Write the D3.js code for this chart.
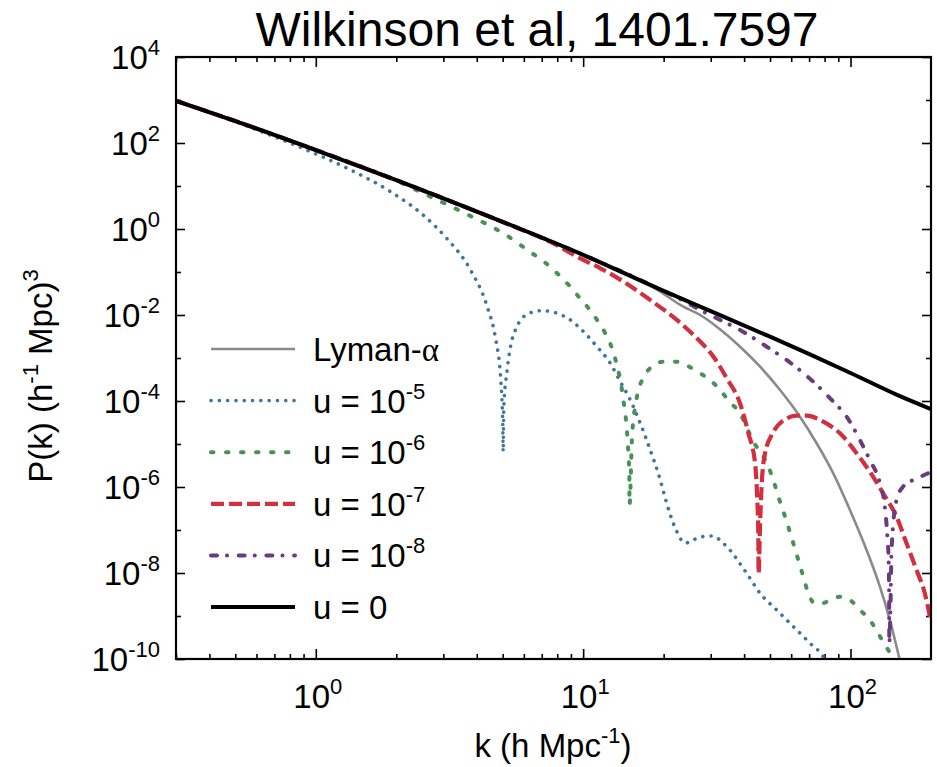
<!DOCTYPE html>
<html><head><meta charset="utf-8">
<script src="https://cdn.jsdelivr.net/npm/d3@7"></script>
<style>
body{margin:0;background:#fff}
text{font-family:"Liberation Sans",Arial,Helvetica,sans-serif;fill:#000}
</style>
</head><body>
<svg id="chart" width="937" height="767"></svg>
<script>
// ---------- data ----------
const title = "Wilkinson et al, 1401.7597";
const xDomain = [0.3, 200];
const yDomain = [1e-10, 1e4];
const xTickExps = [0, 1, 2];
const yTickExps = [4, 2, 0, -2, -4, -6, -8, -10];

const kU0 = [0.3,0.5,1,2,3,5,10,20,30,50,100,150,200];
const pU0 = [955,324,68.7,13.7,5.16,1.47,0.251,0.0363,0.0123,3.13e-3,4.48e-4,1.37e-4,6.5e-5];

const kU5 = [0.3,0.5,0.66,0.958,1.351,1.905,2.537,3.103,3.792,4.376,4.70,4.909,5.006,5.02,5.048,5.197,5.347,5.58,5.912,6.353,7.023,7.99,8.96,10.04,11.27,12.64,13.77,15.01,16.35,17.82,19.42,20.28,22.1,24.1,27.4,30.4,33.96,40.9,45.9,52.97,61.2,70.6,79.1,83.8];
const pU5 = [955,316,162,62.8,23.6,7.36,2.04,0.585,0.111,0.0156,2.87e-3,3.67e-4,2.52e-5,6.62e-6,7.36e-5,5.26e-4,1.83e-3,4.48e-3,8.38e-3,0.0113,0.0126,0.0110,7.66e-3,4.09e-3,1.83e-3,7.53e-4,2.81e-4,1.05e-4,3.03e-5,7.24e-6,1.46e-6,5.46e-7,1.11e-7,4.99e-8,6.87e-8,7.24e-8,4.48e-8,9.84e-9,3.37e-9,1.38e-9,5.64e-10,2.32e-10,1.13e-10,5.5e-11];

const kU6 = [0.3,0.5,1,1.852,2.765,3.792,5,6.446,7.224,7.99,8.83,9.62,10.48,11.27,12.1,12.82,13.27,13.69,13.97,14.25,14.5,14.66,14.79,14.88,14.91,15.22,15.36,15.66,15.98,16.74,18.08,19.98,22.42,25.14,27.4,29.85,32.54,35.45,38.64,40.9,43.3,46.6,49.3,51.4,53.7,56.1,58.5,61.1,63.8,66.6,69.5,73.6,78.0,86.2,91.3,99.5,108.4,118.1,126.9,134.4,142.4,146.6];
const pU6 = [955,324,68.7,16.4,5.18,2.00,0.81,0.272,0.164,0.0933,0.0499,0.0267,0.0143,7.66e-3,3.75e-3,1.68e-3,8.20e-4,3.67e-4,1.80e-4,7.36e-5,3.03e-5,1.24e-5,5.07e-6,2.08e-6,3.81e-7,1.24e-5,3.03e-5,7.36e-5,1.51e-4,3.37e-4,6.28e-4,8.20e-4,8.20e-4,6.08e-4,4.41e-4,3.08e-4,1.80e-4,9.23e-5,5.18e-5,2.42e-5,1.13e-5,5.85e-6,2.96e-6,1.46e-6,5.94e-7,2.67e-7,1.19e-7,4.91e-8,2.00e-8,8.20e-9,3.37e-9,1.97e-9,1.97e-9,2.58e-9,2.81e-9,2.36e-9,1.38e-9,8.07e-10,3.96e-10,2.12e-10,1.13e-10,6.2e-11];

const kU7 = [0.3,0.5,1,2,3,5,8.22,9.49,11.6,14.17,17.82,22.41,26.63,30.72,34.45,38.6,41.5,43.95,44.8,45.2,45.3,45.9,46.56,47.9,50.75,55.3,62.9,68.6,79.1,91.3,105.4,118.1,132.4,148.6,162,176.6,189.6,200];
const pU7 = [955,324,68.7,13.7,5.16,1.45,0.380,0.227,0.122,0.0594,0.0223,7.66e-3,2.87e-3,1.07e-3,3.37e-4,8.85e-5,1.77e-5,3.56e-6,4.99e-7,8.38e-8,9.84e-9,1.43e-7,1.22e-6,6.08e-6,1.62e-5,3.30e-5,4.55e-5,4.55e-5,3.30e-5,1.77e-5,6.08e-6,2.27e-6,7.13e-7,2.04e-7,4.91e-8,1.17e-8,3.37e-9,7.24e-10];

const kU8 = [0.3,0.5,1,2,3,5,10,20,23.7,27.4,31.6,38.64,48.6,61.1,72.6,86.2,96.7,108.4,118.1,128.8,134.4,137.1,139.1,139.5,139.7,141.0,142.4,148.6,157.3,171.5,192.4,200];
const pU8 = [955,324,68.7,13.7,5.16,1.47,0.251,0.0363,0.0215,0.0131,8.38e-3,4.48e-3,1.83e-3,6.87e-4,2.81e-4,9.64e-5,4.32e-5,1.24e-5,4.25e-6,1.22e-6,3.48e-7,8.38e-8,1.40e-8,1.38e-9,2.36e-10,1.38e-9,3.43e-8,4.99e-7,1.02e-6,1.46e-6,2.00e-6,2.24e-6];

const kLy = [0.3,0.5,1,2,3,5,10,18.88,23.7,27.4,31.6,38.64,45.9,54.5,64.7,74.7,86.2,99.5,114.8,128.8,140.3,150.7,154.3];
const pLy = [955,324,68.7,13.7,5.16,1.47,0.251,0.0390,0.0156,0.0100,5.35e-3,1.83e-3,6.28e-4,1.80e-4,4.32e-5,1.04e-5,2.08e-6,2.92e-7,3.43e-8,4.80e-9,8.07e-10,1.36e-10,7.24e-11];

const seriesLabels = ["Lyman-α","u = 10^-5","u = 10^-6","u = 10^-7","u = 10^-8","u = 0"];

// ---------- styles ----------
const styles = [
  {k:kLy, p:pLy, color:"#8a8a8a", width:2.6, dash:null, cap:"butt"},
  {k:kU5, p:pU5, color:"#41769a", width:3.6, dash:"0.1 8.2", cap:"round"},
  {k:kU6, p:pU6, color:"#4a9058", width:4, dash:"2.5 12.5", cap:"round"},
  {k:kU7, p:pU7, color:"#d2303f", width:4.2, dash:"13 5", cap:"butt"},
  {k:kU8, p:pU8, color:"#6c3b7e", width:4, dash:"6 10 0.1 11.6", cap:"round"},
  {k:kU0, p:pU0, color:"#000000", width:4, dash:null, cap:"butt"}
];

const svg = d3.select("#chart");
const M = {l:176, r:931, t:57, b:659};
const x = d3.scaleLog().domain(xDomain).range([M.l, M.r]);
const y = d3.scaleLog().domain(yDomain).range([M.b, M.t]);

svg.append("rect").attr("width",937).attr("height",767).attr("fill","#fff");

svg.append("defs").append("clipPath").attr("id","clip")
  .append("rect").attr("x",M.l).attr("y",M.t).attr("width",M.r-M.l).attr("height",M.b-M.t);

// ---------- ticks ----------
const xMajor = xTickExps.map(e => Math.pow(10,e));
const xMinor = [];
[-1,0,1].forEach(e => { for (let m=2;m<=9;m++){ const v=m*Math.pow(10,e); if (v>xDomain[0] && v<xDomain[1]) xMinor.push(v);} });
const yMajor = yTickExps.map(e => Math.pow(10,e));
const yMinor = d3.range(-9,4,2).map(e => Math.pow(10,e));

function styleAxis(g){ g.select(".domain").remove(); g.selectAll("line").attr("stroke","#000").attr("stroke-width",1.6); g.selectAll("text").remove(); }
svg.append("g").attr("transform",`translate(0,${M.b})`).call(d3.axisBottom(x).tickValues(xMajor).tickSize(-10).tickFormat("")).call(styleAxis);
svg.append("g").attr("transform",`translate(0,${M.b})`).call(d3.axisBottom(x).tickValues(xMinor).tickSize(-5).tickFormat("")).call(styleAxis);
svg.append("g").attr("transform",`translate(0,${M.t})`).call(d3.axisTop(x).tickValues(xMajor).tickSize(-10).tickFormat("")).call(styleAxis);
svg.append("g").attr("transform",`translate(0,${M.t})`).call(d3.axisTop(x).tickValues(xMinor).tickSize(-5).tickFormat("")).call(styleAxis);
svg.append("g").attr("transform",`translate(${M.l},0)`).call(d3.axisLeft(y).tickValues(yMajor).tickSize(-9).tickFormat("")).call(styleAxis);
svg.append("g").attr("transform",`translate(${M.l},0)`).call(d3.axisLeft(y).tickValues(yMinor).tickSize(-5).tickFormat("")).call(styleAxis);
svg.append("g").attr("transform",`translate(${M.r},0)`).call(d3.axisRight(y).tickValues(yMajor).tickSize(-9).tickFormat("")).call(styleAxis);
svg.append("g").attr("transform",`translate(${M.r},0)`).call(d3.axisRight(y).tickValues(yMinor).tickSize(-5).tickFormat("")).call(styleAxis);

// ---------- curves ----------
const line = d3.line().x(d => x(d[0])).y(d => y(d[1])).curve(d3.curveMonotoneX);
const plot = svg.append("g").attr("clip-path","url(#clip)");
styles.forEach(s => {
  const pts = s.k.map((k,i) => [k, s.p[i]]);
  plot.append("path").attr("d", line(pts)).attr("fill","none")
    .attr("stroke", s.color).attr("stroke-width", s.width)
    .attr("stroke-linecap", s.cap).attr("stroke-linejoin","round")
    .attr("stroke-dasharray", s.dash);
});

// frame
svg.append("rect").attr("x",M.l).attr("y",M.t).attr("width",M.r-M.l).attr("height",M.b-M.t)
  .attr("fill","none").attr("stroke","#000").attr("stroke-width",2.2);

// ---------- tick labels ----------
const FS = 33, SFS = 22, SUP = -14;
yTickExps.forEach(e => {
  const t = svg.append("text").attr("x",160).attr("y", y(Math.pow(10,e)) + 12)
    .attr("text-anchor","end").attr("font-size",FS);
  t.append("tspan").text("10");
  t.append("tspan").attr("dy",SUP).attr("font-size",SFS).text(String(e));
});
xTickExps.forEach(e => {
  const t = svg.append("text").attr("x", x(Math.pow(10,e)) + 2).attr("y", 708)
    .attr("text-anchor","middle").attr("font-size",FS);
  t.append("tspan").text("10");
  t.append("tspan").attr("dy",SUP).attr("font-size",SFS).text(String(e));
});

// ---------- axis titles ----------
const xl = svg.append("text").attr("x",553).attr("y",757).attr("text-anchor","middle").attr("font-size",FS);
xl.append("tspan").text("k (h Mpc");
xl.append("tspan").attr("dy",SUP).attr("font-size",SFS).text("-1");
xl.append("tspan").attr("dy",-SUP).text(")");

const yl = svg.append("text").attr("transform",`translate(52,376) rotate(-90)`)
  .attr("text-anchor","middle").attr("font-size",FS);
yl.append("tspan").text("P(k) (h");
yl.append("tspan").attr("dy",SUP).attr("font-size",SFS).text("-1");
yl.append("tspan").attr("dy",-SUP).text(" Mpc)");
yl.append("tspan").attr("dy",SUP).attr("font-size",SFS).text("3");

svg.append("text").attr("x",537).attr("y",46).attr("text-anchor","middle").attr("font-size",48).text(title);

// ---------- legend ----------
const legY0 = 349, legDY = 51.6;
styles.forEach((s,i) => {
  const yy = legY0 + i*legDY;
  svg.append("line").attr("x1",211).attr("x2",295).attr("y1",yy).attr("y2",yy)
    .attr("stroke",s.color).attr("stroke-width",s.width).attr("stroke-linecap",s.cap)
    .attr("stroke-dasharray",s.dash);
  const t = svg.append("text").attr("x",313).attr("y",yy+12).attr("font-size",FS);
  const lab = seriesLabels[i];
  if (lab.indexOf("^")>=0) {
    const parts = lab.split("^");
    t.append("tspan").text(parts[0]);
    t.append("tspan").attr("dy",SUP).attr("font-size",SFS).text(parts[1]);
  } else if (lab.indexOf("α")>=0) {
    t.append("tspan").text(lab.replace("α",""));
    t.append("tspan").attr("font-family","'Liberation Serif','DejaVu Serif',serif").text("α");
  } else {
    t.text(lab);
  }
});
</script>
</body></html>
